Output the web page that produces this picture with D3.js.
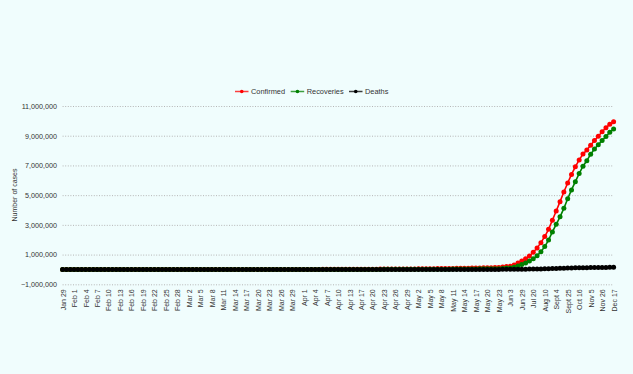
<!DOCTYPE html>
<html>
<head>
<meta charset="utf-8">
<script src="https://cdn.jsdelivr.net/npm/d3@7"></script>
<style>
  body { margin: 0; background: #f0fdfd; }
  text { font-family: "Liberation Sans", Arial, sans-serif; fill: #333; }
</style>
</head>
<body>
<div id="chart"></div>
<script>
// categories, one per data point (10 per row)
var dates = [
  "Jan 29","Jan 30","Jan 31","Feb 1","Feb 2","Feb 3","Feb 4","Feb 5","Feb 6","Feb 7",
  "Feb 8","Feb 9","Feb 10","Feb 11","Feb 12","Feb 13","Feb 14","Feb 15","Feb 16","Feb 17",
  "Feb 18","Feb 19","Feb 20","Feb 21","Feb 22","Feb 23","Feb 24","Feb 25","Feb 26","Feb 27",
  "Feb 28","Feb 29","Mar 1","Mar 2","Mar 3","Mar 4","Mar 5","Mar 6","Mar 7","Mar 8",
  "Mar 9","Mar 10","Mar 11","Mar 12","Mar 13","Mar 14","Mar 15","Mar 16","Mar 17","Mar 18",
  "Mar 19","Mar 20","Mar 21","Mar 22","Mar 23","Mar 24","Mar 25","Mar 26","Mar 27","Mar 28",
  "Mar 29","Mar 30","Mar 31","Apr 1","Apr 2","Apr 3","Apr 4","Apr 5","Apr 6","Apr 7",
  "Apr 8","Apr 9","Apr 10","Apr 11","Apr 12","Apr 13","Apr 14","Apr 15","Apr 17","Apr 18",
  "Apr 19","Apr 20","Apr 21","Apr 22","Apr 23","Apr 24","Apr 25","Apr 26","Apr 27","Apr 28",
  "Apr 29","Apr 30","May 1","May 2","May 3","May 4","May 5","May 6","May 7","May 8",
  "May 9","May 10","May 11","May 12","May 13","May 14","May 15","May 16","May 17","May 18",
  "May 19","May 20","May 21","May 22","May 23","May 27","May 31","Jun 3","Jun 12","Jun 21",
  "Jun 29","Jul 6","Jul 13","Jul 20","Jul 27","Aug 3","Aug 10","Aug 18","Aug 27","Sept 4",
  "Sept 11","Sept 18","Sept 25","Oct 2","Oct 9","Oct 16","Oct 23","Oct 29","Nov 5","Nov 12",
  "Nov 19","Nov 26","Dec 3","Dec 10","Dec 17"
];

var confirmed = [
  0,1,1,1,2,3,3,3,3,3,
  3,3,3,3,3,3,3,3,3,3,
  3,3,3,3,3,3,3,3,3,3,
  3,3,3,5,6,28,30,31,34,39,
  43,56,62,73,82,102,113,119,142,156,
  194,244,330,396,499,536,657,727,887,987,
  1024,1251,1397,1998,2543,2567,3082,3588,4778,5311,
  5916,6725,7598,8446,9205,10453,11487,12322,14378,15712,
  17265,18600,20080,21370,23077,24530,26283,27890,29451,31324,
  33062,34863,37257,39699,42533,46437,49400,52987,56351,59695,
  62808,67161,70768,74292,78055,81997,85784,90648,95698,100328,
  106475,112028,118226,124794,131423,158333,190535,216919,297535,425282,
  566840,719665,906752,1155191,1435453,1803695,2215074,2702742,3310234,3936747,
  4562414,5214677,5818570,6394068,6906151,7370468,7761312,8040203,8364086,8683916,
  8958483,9266705,9534964,9767371,9932547
];

var recoveries = [
  0,0,0,0,0,0,0,0,0,0,
  0,0,0,0,0,0,3,3,3,3,
  3,3,3,3,3,3,3,3,3,3,
  3,3,3,3,3,3,3,3,3,3,
  3,3,3,3,4,10,13,14,14,14,
  15,23,23,24,34,40,43,45,73,84,
  95,102,124,149,191,192,229,275,375,421,
  506,620,774,969,1080,1181,1359,1489,2015,2231,
  2547,3252,3975,4370,5063,5496,5939,6185,7027,7747,
  8437,9068,10007,10633,11775,12847,14183,15267,16776,17847,
  19358,20917,22549,24386,26235,27920,30153,34109,36824,39174,
  42298,45300,48534,51784,54441,67692,91819,104107,147195,237196,
  334822,439948,571460,724578,917568,1186203,1535743,1977779,2523771,3037151,
  3542663,4112551,4756164,5352078,5906069,6453779,6948497,7315989,7756463,8100000,
  8390000,8680000,8947000,9230000,9453000
];

var deaths = [
  0,0,0,0,0,0,0,0,0,0,
  0,0,0,0,0,0,0,0,0,0,
  0,0,0,0,0,0,0,0,0,0,
  0,0,0,0,0,0,0,0,0,0,
  0,0,0,1,2,2,2,2,3,3,
  4,5,6,7,10,10,12,20,20,24,
  27,32,35,58,72,72,86,99,136,150,
  178,226,246,288,331,358,393,405,480,507,
  543,590,640,681,721,780,825,881,939,1008,
  1079,1154,1223,1323,1391,1566,1693,1783,1886,1981,
  2109,2206,2293,2415,2549,2649,2752,2872,3029,3163,
  3303,3435,3583,3720,3867,4531,5394,6075,8498,13699,
  16893,20160,23727,28084,32771,38135,44386,51797,60472,68472,
  76271,84372,92290,99773,106490,112161,117306,120527,124315,128121,
  131578,135223,138648,141772,143709
];

// labels shown on the x axis
var tickLabels = [
  "Jan 29","Feb 1","Feb 4","Feb 7","Feb 10","Feb 13","Feb 16","Feb 19","Feb 22","Feb 25","Feb 28",
  "Mar 2","Mar 5","Mar 8","Mar 11","Mar 14","Mar 17","Mar 20","Mar 23","Mar 26","Mar 29",
  "Apr 1","Apr 4","Apr 7","Apr 10","Apr 13","Apr 17","Apr 20","Apr 23","Apr 26","Apr 29",
  "May 2","May 5","May 8","May 11","May 14","May 17","May 20","May 23",
  "Jun 3","Jun 29","Jul 20","Aug 10","Sept 4","Sept 25","Oct 16","Nov 5","Nov 26","Dec 17"
];

var yTicks = [-1000000, 1000000, 3000000, 5000000, 7000000, 9000000, 11000000];

var keys = ["Confirmed", "Recoveries", "Deaths"];
var colors = ["#ff0000", "#008000", "#000000"];

var svg = d3.select("#chart")
  .append("svg")
  .attr("width", 633)
  .attr("height", 374);

svg.append("rect")
  .attr("width", 633)
  .attr("height", 374)
  .attr("fill", "#f0fdfd");

var left = 62.6, right = 613.6;

var x = d3.scalePoint()
  .domain(dates)
  .range([left, right]);

var y = d3.scaleLinear()
  .domain([-1000000, 11000000])
  .range([284.3, 106]);

// y axis + dotted gridlines
var yAxis = svg.append("g")
  .attr("transform", "translate(" + left + ",0)")
  .call(d3.axisLeft(y)
    .tickValues(yTicks)
    .tickSize(-(right - left))
    .tickPadding(5.5)
    .tickFormat(d3.format(",")));

yAxis.select(".domain").remove();
yAxis.selectAll("line")
  .attr("stroke", "#b5b5b5")
  .attr("stroke-dasharray", "1,1.6");
yAxis.selectAll("text")
  .style("font-size", "7.2px")
  .attr("fill", "#333");

// x axis, labels rotated
var xAxis = svg.append("g")
  .attr("transform", "translate(0," + y(-1000000) + ")")
  .call(d3.axisBottom(x).tickValues(tickLabels).tickSize(0));

xAxis.select(".domain").remove();
xAxis.selectAll("text")
  .attr("transform", "rotate(-90)")
  .attr("x", -5)
  .attr("y", 0)
  .attr("dy", "0.35em")
  .style("text-anchor", "end")
  .style("font-size", "7px")
  .attr("fill", "#333");

// y axis title
svg.append("text")
  .attr("transform", "translate(17,195) rotate(-90)")
  .style("text-anchor", "middle")
  .style("font-size", "7px")
  .text("Number of cases");

var series = [confirmed, recoveries, deaths];

series.forEach(function(values, k) {
  var pts = values.map(function(v, i) { return {d: dates[i], v: v}; });

  svg.append("path")
    .datum(pts)
    .attr("d", d3.line()
      .x(function(p) { return x(p.d); })
      .y(function(p) { return y(p.v); }))
    .attr("fill", "none")
    .attr("stroke", colors[k])
    .attr("stroke-width", 1.6);

  svg.append("g")
    .selectAll("circle")
    .data(pts)
    .enter()
    .append("circle")
      .attr("cx", function(p) { return x(p.d); })
      .attr("cy", function(p) { return y(p.v); })
      .attr("r", 2.5)
      .attr("fill", colors[k]);
});

// legend
var legX = [235, 290.7, 349];

var leg = svg.selectAll("g.leg")
  .data(keys)
  .enter()
  .append("g")
    .attr("class", "leg")
    .attr("transform", function(d, i) { return "translate(" + legX[i] + ",91.5)"; });

leg.append("line")
  .attr("x1", 0)
  .attr("x2", 13.5)
  .attr("stroke", function(d, i) { return colors[i]; })
  .attr("stroke-width", 1.5)
  .attr("opacity", 0.75);

leg.append("circle")
  .attr("cx", 6.75)
  .attr("r", 1.8)
  .attr("fill", function(d, i) { return colors[i]; });

leg.append("text")
  .attr("x", 16)
  .attr("dy", "0.35em")
  .style("font-size", "7.4px")
  .text(function(d) { return d; });
</script>
</body>
</html>
